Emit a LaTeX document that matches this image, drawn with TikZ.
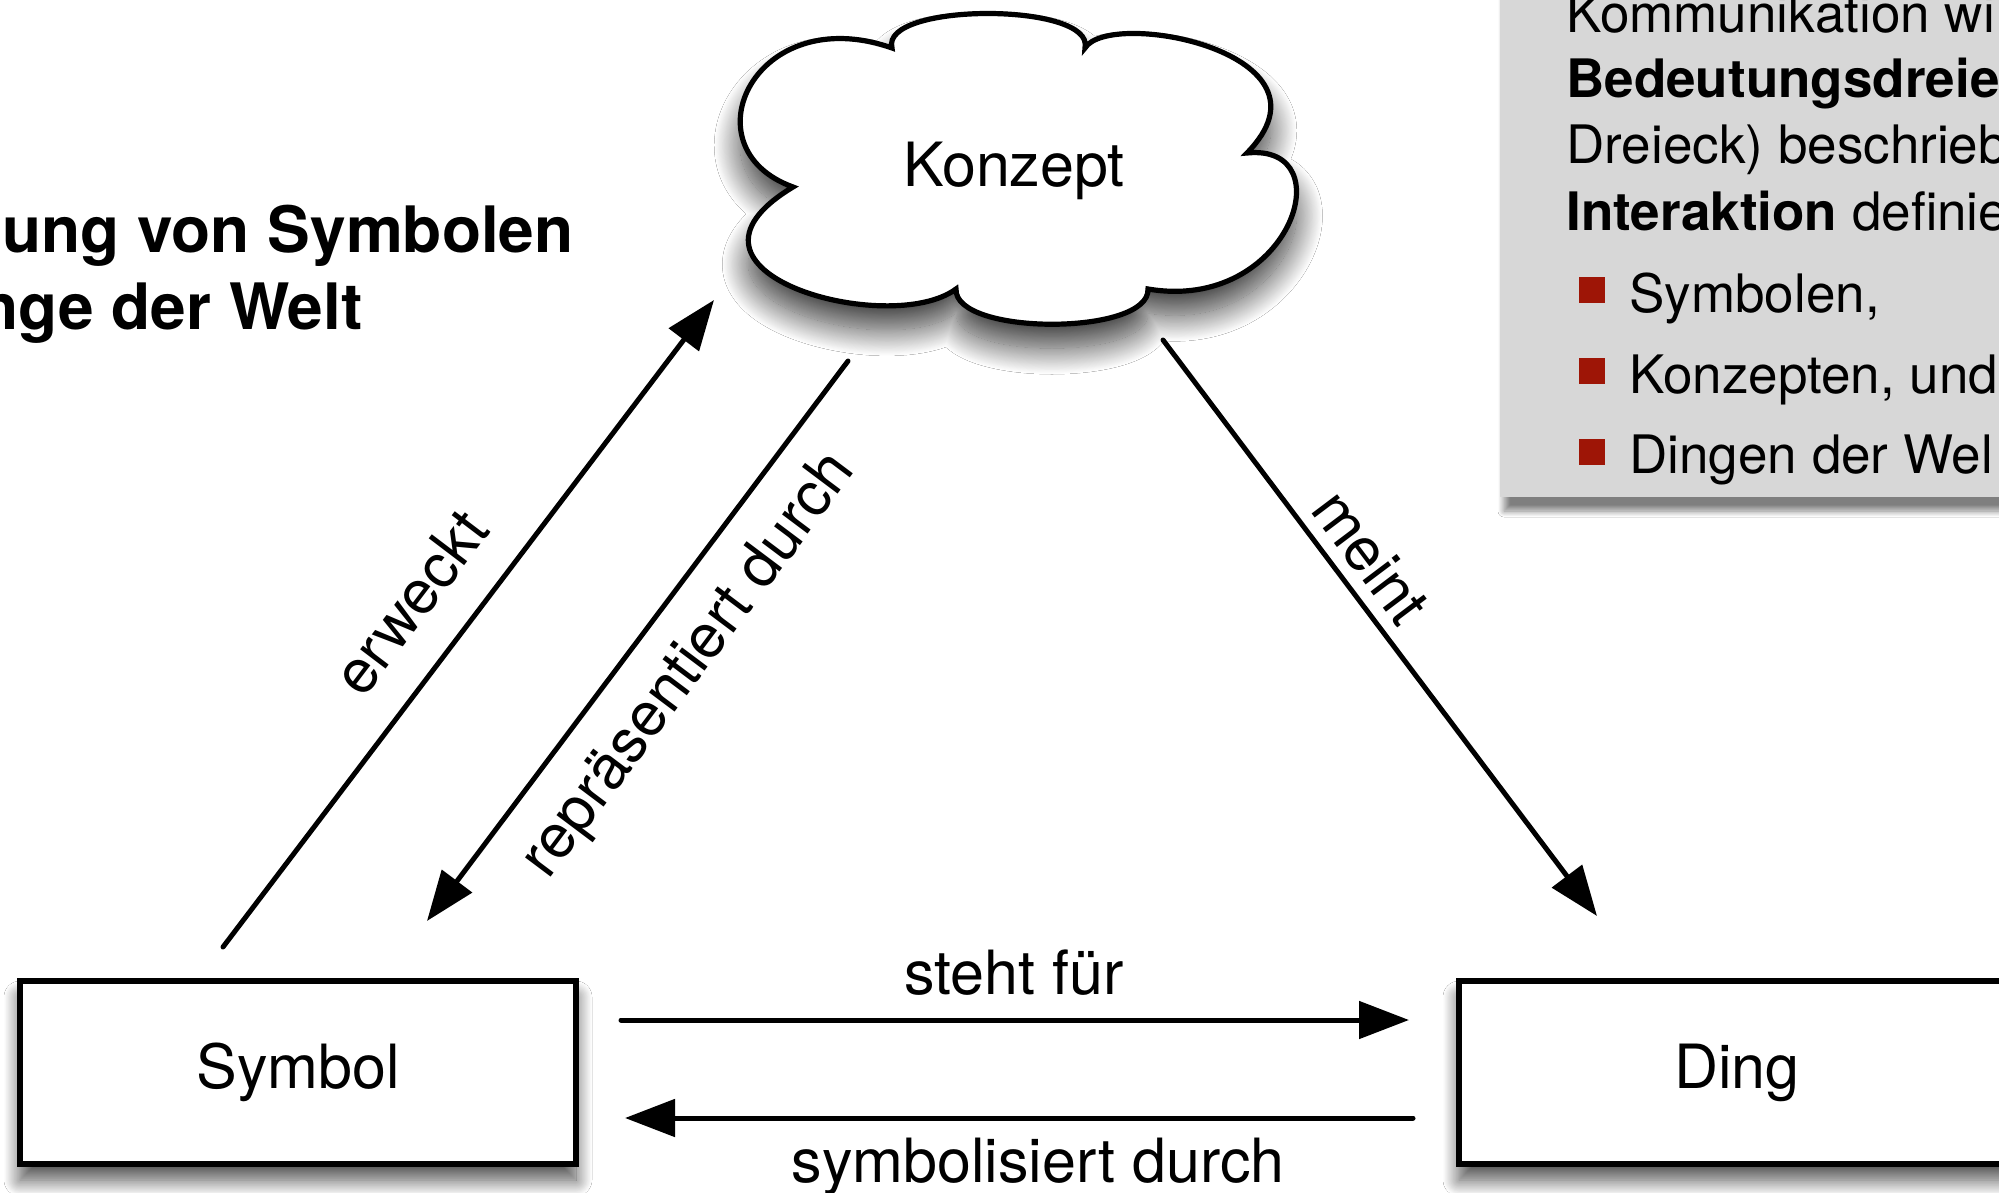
\documentclass[tikz,border=0pt]{standalone}
\usepackage{fontspec}
\setmainfont{TeX Gyre Heros}
\usetikzlibrary{arrows.meta,shadows.blur}
\definecolor{panelgrey}{RGB}{215,215,215}
\definecolor{bulletred}{RGB}{158,21,6}
\begin{document}
\begin{tikzpicture}[x=0.5pt,y=-0.5pt,
  lbl/.style={font=\fontsize{30.5pt}{36pt}\selectfont, inner sep=0pt, opacity=1},
  titletext/.style={font=\fontsize{32pt}{38pt}\selectfont\bfseries, inner sep=0pt},
  paneltext/.style={font=\fontsize{26.5pt}{32pt}\selectfont, inner sep=0pt, anchor=base west},
  bulletsq/.style={fill=bulletred, minimum size=13pt, inner sep=0pt},
  boxnode/.style={draw=black, line width=2.7pt, fill=white, minimum width=278pt, minimum height=91.5pt,
    inner sep=0pt, font=\fontsize{30.5pt}{36pt}\selectfont, draw opacity=1, fill opacity=1,
    blur shadow={shadow xshift=0pt, shadow yshift=-8pt, shadow blur radius=8pt,
                 shadow opacity=70, shadow blur steps=24}},
  arr/.style={draw=black, line width=2.5pt, line cap=round, draw opacity=1, fill opacity=1,
    -{Triangle[length=25pt,width=18.5pt,fill=black]}}
]
\useasboundingbox (0,0) rectangle (1999,1193);
\fill[white] (0,0) rectangle (1999,1193);
\begin{scope}
\clip (0,0) rectangle (1999,1193);

% side panel with bullet list
\fill[panelgrey, blur shadow={shadow xshift=2pt, shadow yshift=-7pt, shadow blur radius=3pt,
      shadow opacity=50, shadow blur steps=16}]
  (1500,-20) rectangle (2040,497);
\node[paneltext] (p1) at (1566,33) {Kommunikation wi};
\node[paneltext] (p2) at (1566,98) {\bfseries Bedeutungsdreie};
\node[paneltext] (p3) at (1566,163) {Dreieck) beschrieb};
\node[paneltext] (p4) at (1566,230) {\textbf{Interaktion} definie};
\node[bulletsq] (b1) at (1592,290) {};
\node[bulletsq] (b2) at (1592,371) {};
\node[bulletsq] (b3) at (1592,452) {};
\node[paneltext] (t1) at (1629,312) {Symbolen,};
\node[paneltext] (t2) at (1629,393) {Konzepten, und};
\node[paneltext] (t3) at (1629,473) {Dingen der Wel};

% heading
\node[titletext, anchor=base east] (h1) at (574,252) {ung von Symbolen};
\node[titletext, anchor=base east] (h2) at (363,329) {nge der Welt};

% concept cloud
\path[draw=black, line width=2.6pt, fill=white, draw opacity=1, fill opacity=1,
      blur shadow={shadow xshift=0pt, shadow yshift=-12pt, shadow blur radius=13pt,
                   shadow opacity=75, shadow blur steps=30}]
  (793,187) .. controls (685,148) and (755,0) .. (892,48)
  .. controls (880,2) and (1095,2) .. (1085,48)
  .. controls (1110,8) and (1345,53) .. (1247,153)
  .. controls (1345,143) and (1290,313) .. (1148,289)
  .. controls (1150,336) and (954,336) .. (956,289)
  .. controls (890,338) and (650,273) .. (793,187) -- cycle;
\node[lbl, anchor=base] (konzept) at (1014,187) {Konzept};

% symbol and thing
\node[boxnode] (symbol) at (298,1072.5) {Symbol};
\node[boxnode] (ding) at (1737,1072.5) {Ding};

% connector end points
\coordinate (eA) at (223,947);  \coordinate (eB) at (714,300);
\coordinate (rA) at (848,361);  \coordinate (rB) at (427,921);
\coordinate (mA) at (1163,340); \coordinate (mB) at (1597,916);
\coordinate (sA) at (621,1020); \coordinate (sB) at (1409,1020);
\coordinate (yA) at (1413,1118); \coordinate (yB) at (625,1118);

\draw[arr] (eA) -- (eB);
\draw[arr] (rA) -- (rB);
\draw[arr] (mA) -- (mB);
\draw[arr] (sA) -- (sB);
\draw[arr] (yA) -- (yB);

% connector labels
\node[lbl, rotate=52.8] (lerw) at (410,602) {erweckt};
\node[lbl, rotate=53.1] (lrep) at (690,666) {repräsentiert durch};
\node[lbl, rotate=-53] (lmei) at (1371,557) {meint};
\node[lbl, anchor=base] (lsteht) at (1014,994) {steht für};
\node[lbl, anchor=base] (lsym) at (1038,1182) {symbolisiert durch};
\end{scope}
\end{tikzpicture}
\end{document}
